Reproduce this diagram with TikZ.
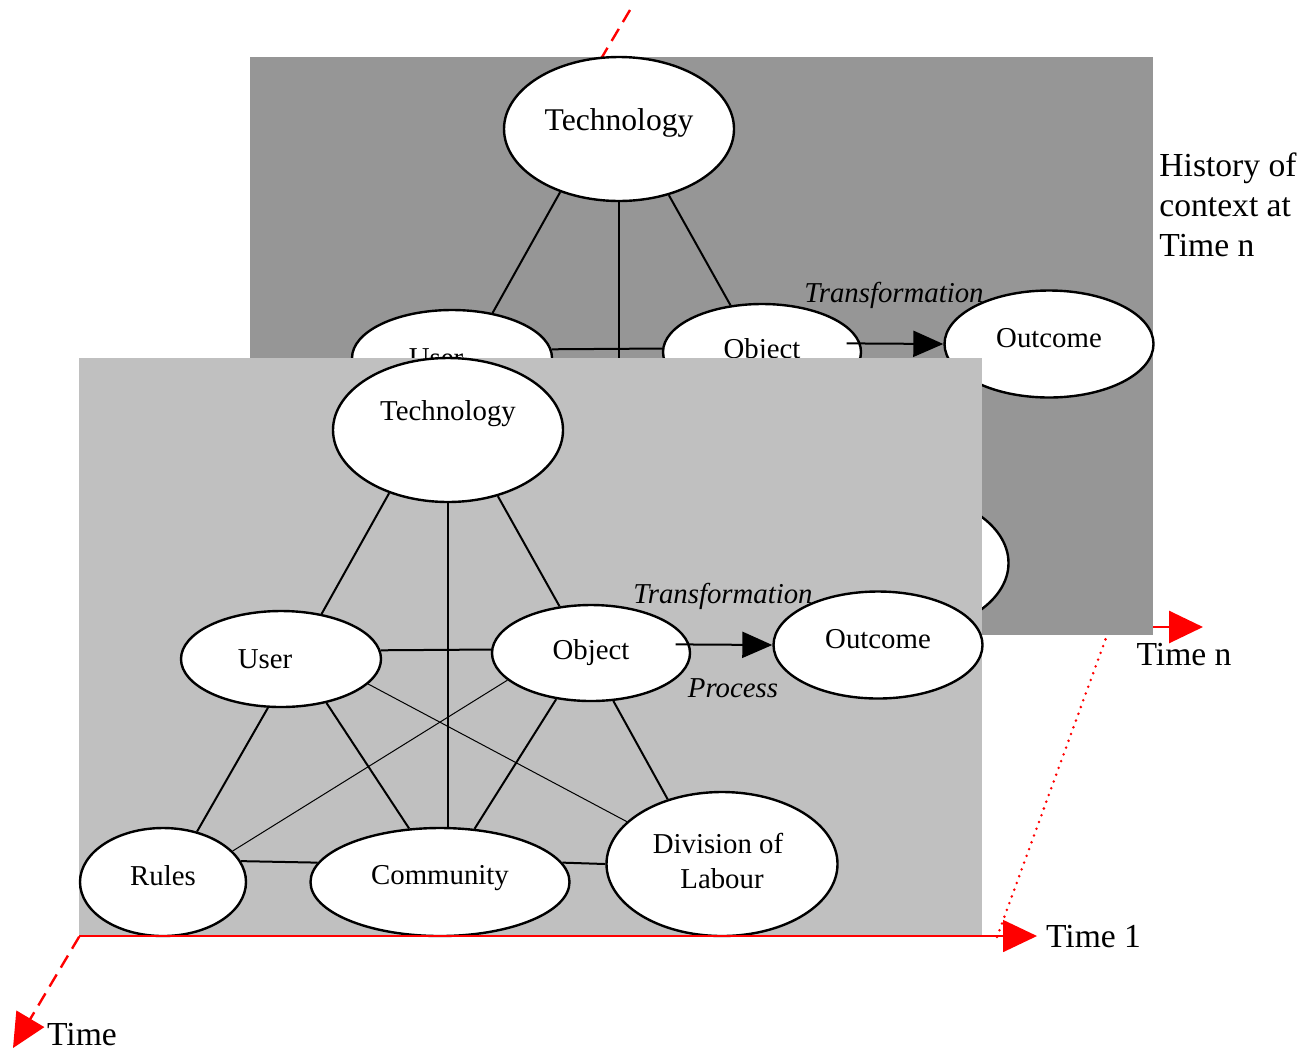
\documentclass[tikz,border=0pt]{standalone}
\usepackage{fontspec}
\setmainfont{Liberation Serif}
\usetikzlibrary{arrows.meta, shapes.geometric}
\definecolor{panelback}{HTML}{969696}
\definecolor{panelfront}{HTML}{C0C0C0}

\begin{document}
\begin{tikzpicture}[x=0.5pt, y=-0.5pt,
    ell/.style={draw, ellipse, fill=white, line width=1.2pt, inner sep=0pt, align=center,
                font=\fontsize{14.4}{17.5}\selectfont},
    lnk/.style={line width=1pt},
    fine/.style={line width=0.5pt},
    trans/.style={font=\fontsize{14.4}{17}\selectfont\itshape},
    axis/.style={red, line width=1.2pt},
    axistip/.style={-{Triangle[length=17pt, width=16pt]}},
    axislbl/.style={font=\fontsize{16.8}{20}\selectfont}]

\useasboundingbox (0,0) rectangle (1309,1050);

%% assi del tempo, dietro ai pannelli
\coordinate (timetop) at (630,10);
\coordinate (timetip) at (13,1048);
\coordinate (tnbase)  at (1110,627);
\coordinate (tntip)   at (1203,627);
\coordinate (t1base)  at (997,937);
\draw[axis, dash pattern=on 7pt off 4pt, axistip] (timetop) -- (timetip);
\draw[axis, line width=1.4pt, axistip] (tnbase) -- (tntip);
\draw[red, line width=1.4pt, line cap=round, dash pattern=on 0pt off 3.6pt] (t1base) -- (tnbase);

%% due pannelli: b = Time n (dietro), f = Time 1 (davanti)
%% \tr = di quanto sale la scritta Technology
\foreach \p/\dx/\dy/\shade/\ts/\tr in {b/171/-301/panelback/15.8/3pt, f/0/0/panelfront/14.4/8pt} {
\begin{scope}[shift={(\dx,\dy)}]
\fill[\shade] (79,358) rectangle (982,936);

\node[ell, minimum width=115pt, minimum height=72pt, font=\fontsize{\ts}{18}\selectfont]
    (tech\p) at (448,430) {\raisebox{\tr}[\height][\depth]{Technology}};
\node[ell, minimum width=100pt, minimum height=48pt]   (user\p)  at (281,659) {\kern-16pt User};
\node[ell, minimum width=99pt, minimum height=48pt]    (obj\p)   at (591,653) {Object};
\node[ell, minimum width=104.5pt, minimum height=53.5pt] (out\p) at (878,645)
    {\raisebox{3pt}[\height][\depth]{Outcome}};
\node[ell, minimum width=83pt, minimum height=54pt]    (rules\p) at (163,882)
    {\raisebox{3pt}[\height][\depth]{Rules}};
\node[ell, minimum width=129.5pt, minimum height=54pt] (comm\p)  at (440,882)
    {\raisebox{2pt}[\height][\depth]{Community}};
\node[ell, minimum width=115.5pt, minimum height=72pt] (div\p)   at (722,864)
    {\raisebox{1.5pt}[\height][\depth]{Division of}\kern4pt\\\raisebox{1.5pt}[\height][\depth]{Labour}};

\draw[lnk] (tech\p.227) -- (user\p.48);
\draw[lnk] (tech\p.south) -- (tech\p.south |- comm\p.north);
\draw[lnk] (tech\p.307) -- (obj\p.124);
\draw[lnk] (user\p.5) -- (obj\p.178);
\draw[lnk] (user\p.255) -- (rules\p.56);
\draw[lnk] (user\p.-44) -- (comm\p.120);
\draw[lnk] (obj\p.233) -- (comm\p.57);
\draw[lnk] (obj\p.295) -- (div\p.130);
\draw[lnk] (rules\p.15) -- (comm\p.171);
\draw[lnk] (comm\p.9) -- (div\p.west);
\draw[fine] (user\p.-16) -- (div\p.156);
\draw[fine] (obj\p.198) -- (rules\p.24);
\draw[lnk, -{Triangle[length=15pt, width=13pt]}] ([xshift=-7pt]obj\p.5) -- (out\p.west);

\node[trans] (transl\p) at (723,596) {Transformation};
\node[trans] (procl\p)  at (733,688) {Process};
\end{scope}
}

%% asse Time 1 sul bordo del pannello davanti
\coordinate (origin) at (79,936);
\coordinate (t1tip)  at (1037,936);
\draw[red, line width=0.8pt, axistip] (origin) -- (t1tip);

\node[axislbl, anchor=west] (t1lbl)   at (1039,937) {Time 1};
\node[axislbl]              (tnlbl)   at (1184,655) {Time n};
\node[axislbl, anchor=west] (timelbl) at (40,1035) {Time};
\node[axislbl, anchor=north west, align=left, inner sep=0pt] (histlbl) at (1159,152)
    {History of\\context at\\Time n};

\end{tikzpicture}
\end{document}
